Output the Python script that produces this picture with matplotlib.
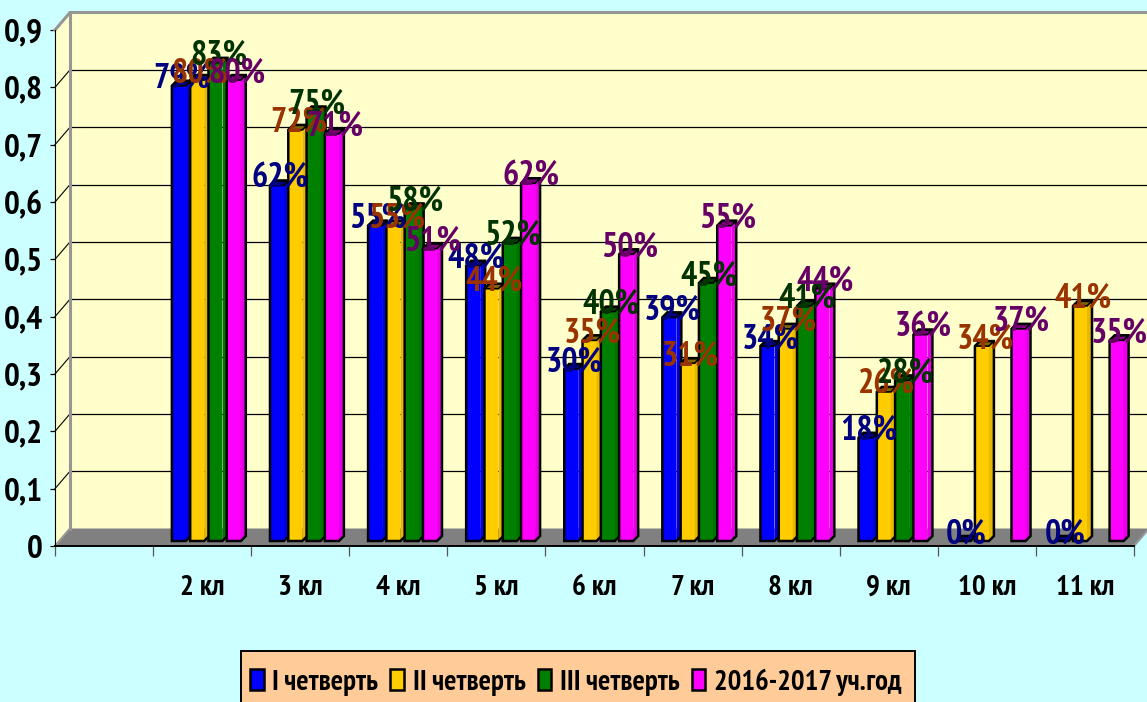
import matplotlib
matplotlib.use('Agg')
import matplotlib.pyplot as plt
from matplotlib.patches import Patch, Rectangle
from matplotlib.transforms import Affine2D
from matplotlib.colors import to_rgb

categories = ['', '2 кл', '3 кл', '4 кл', '5 кл', '6 кл', '7 кл', '8 кл', '9 кл', '10 кл', '11 кл']
q1 = [None, 0.794, 0.62, 0.55, 0.48, 0.30, 0.39, 0.34, 0.18, 0.0, 0.0]
q2 = [None, 0.804, 0.717, 0.55, 0.44, 0.35, 0.31, 0.37, 0.26, 0.34, 0.41]
q3 = [None, 0.834, 0.749, 0.58, 0.52, 0.40, 0.45, 0.41, 0.28, None, None]
year = [None, 0.804, 0.71, 0.51, 0.624, 0.50, 0.55, 0.44, 0.36, 0.37, 0.35]
series_names = ['I четверть', 'II четверть', 'III четверть', '2016-2017 уч.год']
y_ticks = [0, 0.1, 0.2, 0.3, 0.4, 0.5, 0.6, 0.7, 0.8, 0.9]
y_labels = ['0', '0,1', '0,2', '0,3', '0,4', '0,5', '0,6', '0,7', '0,8', '0,9']

series = [q1, q2, q3, year]
colors = ['#0000FF', '#FFCC00', '#008000', '#FF00FF']
label_colors = ['#000080', '#993300', '#003300', '#660066']
FONT = ['PT Sans Narrow', 'Roboto Condensed', 'Archivo Narrow', 'Liberation Sans', 'DejaVu Sans']
plt.rcParams['font.family'] = FONT
plt.rcParams['font.weight'] = 'bold'

W, H = 1147, 702
fig = plt.figure(figsize=(W / 100, H / 100), dpi=100, facecolor='#CCFFFF')
ax = fig.add_axes([55 / W, (H - 546) / H, 1079 / W, 516 / H], facecolor='none')
ax.set_xlim(0, 11)
ax.set_ylim(0, 0.9)
PX = 11 / 1079
PY = 0.9 / 516


def shift(dx, dy):
    return ax.transData + Affine2D().translate(dx, dy)


def shade(c, f):
    return tuple(v * f for v in to_rgb(c))


back = shift(15, 17.5)
XMAX = 11
ax.fill([0, XMAX, XMAX, 0], [0, 0, 0.9, 0.9], color='#FFFFCC', transform=back, clip_on=False, zorder=0, lw=0)
ax.fill([0, 15 * PX, 15 * PX, 0], [0, 17.5 * PY, 0.9 + 17.5 * PY, 0.9], color='#FFFFCC', clip_on=False, zorder=0, lw=0)
ax.fill([0, XMAX, XMAX + 15 * PX, 15 * PX], [0, 0, 17.5 * PY, 17.5 * PY], color='#808080', clip_on=False, zorder=1, lw=0)
for t in y_ticks[1:-1]:
    ax.plot([0, XMAX], [t, t], color='#000000', lw=0.9, transform=back, clip_on=False, zorder=1)
    ax.plot([0, 15 * PX], [t, t + 17.5 * PY], color='#000000', lw=0.8, clip_on=False, zorder=1)
ax.plot([0, 15 * PX, XMAX + 15 * PX], [0.9, 0.9 + 17.5 * PY, 0.9 + 17.5 * PY], color='#969696', lw=2.2, clip_on=False, zorder=2)
ax.plot([15 * PX, 15 * PX], [17.5 * PY, 0.9 + 17.5 * PY], color='#969696', lw=2.2, clip_on=False, zorder=2)
ax.plot([0, 15 * PX], [0, 17.5 * PY], color='#969696', lw=1.5, clip_on=False, zorder=2)
ax.plot([XMAX, XMAX + 15 * PX], [0, 17.5 * PY], color='#969696', lw=1.5, clip_on=False, zorder=2)

step, width = 18.3 * PX, 14 * PX
ddx, ddy = 5 * PX, 5 * PY
bars_tf = shift(4.2, 5)
text_tf = shift(4.2 + 3, 5 + 7)
z = 3
for k in range(len(categories)):
    for i, vals in enumerate(series):
        v = vals[k]
        if v is None:
            continue
        left = k + 0.5 + (i - 2) * step + (step - width) / 2
        col = colors[i]
        right = left + width
        ax.bar(left, v, width, align='edge', color=col, lw=0, transform=bars_tf, zorder=z, clip_on=False)
        ax.fill([right, right + ddx, right + ddx, right], [0, ddy, v + ddy, v],
                facecolor=shade(col, 0.9), lw=0, transform=bars_tf, zorder=z, clip_on=False)
        ax.fill([left, right, right + ddx, left + ddx], [v, v, v + ddy, v + ddy],
                facecolor=shade(col, 0.5), edgecolor='black', lw=1.2, transform=bars_tf, zorder=z, clip_on=False)
        ax.fill([left, right, right + ddx, right + ddx, left + ddx, left],
                [0, 0, ddy, v + ddy, v + ddy, v],
                facecolor='none', edgecolor='black', lw=1.8, transform=bars_tf, zorder=z, clip_on=False)
        z += 0.01
for k in range(len(categories)):
    for i, vals in enumerate(series):
        v = vals[k]
        if v is None:
            continue
        left = k + 0.5 + (i - 2) * step + (step - width) / 2
        ax.text(left + width / 2, v, f'{int(v * 100 + 0.5)}%', color=label_colors[i], fontsize=24.5,
                ha='center', va='center', transform=text_tf, zorder=10 + i, clip_on=False)

for s in ax.spines.values():
    s.set_visible(False)
ax.spines['left'].set_visible(True)
ax.spines['left'].set_color('#000000')
ax.spines['bottom'].set_visible(True)
ax.spines['bottom'].set_linewidth(1.4)
ax.spines['bottom'].set_zorder(2.5)
ax.set_yticks(y_ticks)
ax.set_yticklabels(y_labels, fontsize=24)
ax.tick_params(axis='y', length=3.5, width=0.9, pad=5)
ax.set_xticks(range(12))
ax.set_xticklabels([''] * 12)
ax.set_xticks([k + 0.5 for k in range(11)], categories, minor=True, fontsize=21)
ax.tick_params(axis='x', which='major', length=7, width=0.9, color='#555555')
ax.tick_params(axis='x', which='minor', length=0, pad=21)

fig.add_artist(Rectangle((241 / W, -5 / H), 674 / W, 56 / H, transform=fig.transFigure,
                         facecolor='#FFCC99', edgecolor='black', lw=1.4, zorder=4))
handles = [Patch(facecolor=c, edgecolor='black', lw=1.8) for c in colors]
leg = fig.legend(handles, series_names, loc='center left', bbox_to_anchor=(250 / W, 20 / H),
                 bbox_transform=fig.transFigure, ncol=4, frameon=False, handlelength=0.48, handleheight=0.72,
                 handletextpad=0.3, columnspacing=0.42, borderpad=0, borderaxespad=0,
                 prop={'size': 20.6, 'weight': 'bold', 'family': FONT})
leg.set_zorder(5)
fig.savefig('out.png', dpi=100, facecolor=fig.get_facecolor())
